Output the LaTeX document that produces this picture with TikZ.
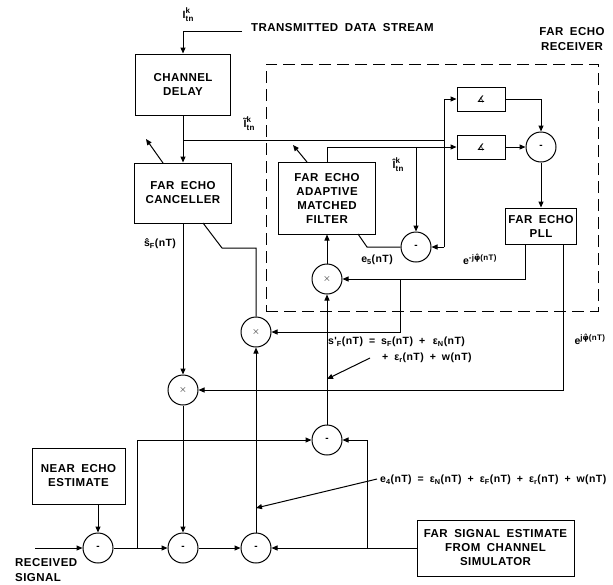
\documentclass[tikz,border=0pt]{standalone}
\usepackage{fontspec}
\setmainfont{Liberation Sans}
\newfontfamily\boxfont{Liberation Sans}[LetterSpace=4,WordSpace=1.8]
\newfontfamily\symfont{DejaVu Sans}
\usetikzlibrary{arrows.meta}
\newcommand\smallsc[1]{\mbox{\boxfont\bfseries\fontsize{8}{9}\selectfont #1}}
\newcommand\Ikt[1]{#1\rlap{\raisebox{5pt}{\smallsc{k}}}\raisebox{-3pt}{\smallsc{tn}}}
\newcommand\ephi[1]{e$^{\smallsc{#1j}\mbox{\symfont\bfseries\fontsize{8}{9}\selectfont φ̂}\smallsc{(nT)}}$}
\tikzset{
  wire/.style={line width=1pt},
  arr/.style={wire,-{Triangle[length=6pt,width=5pt]}},
  blk/.style={draw,line width=1pt,inner sep=0pt,align=center,
    font=\boxfont\bfseries\fontsize{11.5}{14}\selectfont},
  circ/.style={draw,circle,line width=1pt,minimum size=30pt,inner sep=0pt,font=\bfseries},
  lab/.style={inner sep=0pt,font=\boxfont\bfseries\fontsize{10.5}{12}\selectfont},
  big/.style={inner sep=0pt,align=left,font=\boxfont\bfseries\fontsize{11.5}{15}\selectfont},
  recvbox/.style={draw,line width=1pt,dash pattern=on 12pt off 6pt,inner sep=0pt}
}
\begin{document}
\begin{tikzpicture}[x=1pt,y=-1pt]
\useasboundingbox (0,0) rectangle (613,584);
% dashed receiver outline
\node[recvbox,minimum width=332pt,minimum height=247pt] (recv) at (432,187.5) {};
% blocks
\node[blk,minimum width=95pt,minimum height=61pt] (cd) at (183,84.5) {CHANNEL\\DELAY};
\node[blk,minimum width=97pt,minimum height=60pt] (fec) at (183,193) {FAR ECHO\\CANCELLER};
\node[blk,minimum width=97pt,minimum height=72pt] (amf) at (327,198) {FAR ECHO\\ADAPTIVE\\MATCHED\\FILTER};
\node[blk,minimum width=48pt,minimum height=24pt] (bu) at (481,99) {\symfont\fontsize{9}{9}\selectfont ∡};
\node[blk,minimum width=48pt,minimum height=24pt] (bl) at (481,147) {\symfont\fontsize{9}{9}\selectfont ∡};
\node[circ] (cs) at (541,147) {-};
\node[blk,minimum width=71pt,minimum height=36pt] (pll) at (541,226) {FAR ECHO\\PLL};
\node[circ] (ce) at (416,247) {-};
\node[circ] (mi) at (327,279) {$\times$};
\node[circ] (mm) at (256,332) {$\times$};
\node[circ] (mb) at (183,390) {$\times$};
\node[circ] (c1) at (98,548) {-};
\node[circ] (c2) at (183,548) {-};
\node[circ] (c3) at (256,548) {-};
\node[circ] (c4) at (327,440) {-};
\node[blk,minimum width=93pt,minimum height=56pt] (ne) at (78.5,476) {NEAR ECHO\\ESTIMATE};
\node[blk,minimum width=157pt,minimum height=56pt] (fse) at (495.5,548) {FAR SIGNAL ESTIMATE\\FROM CHANNEL\\SIMULATOR};
% coordinates
\coordinate (tin) at (242,31);
\coordinate (ti) at (183,140);
\coordinate (va) at (444,247);
\coordinate (pa) at (525,244);
\coordinate (pb) at (563,244);
\coordinate (pc) at (400,279);
\coordinate (e5a) at (358,234);
\coordinate (e5b) at (367,247);
\coordinate (fa) at (203,223);
\coordinate (fb) at (222,248);
\coordinate (rs) at (35,548);
\coordinate (ba) at (137,548);
\coordinate (bb) at (367,548);
\coordinate (fx1) at (163,163);
\coordinate (fx2) at (146,139);
\coordinate (ax1) at (307,162);
\coordinate (ax2) at (293,145);
\coordinate (sp1) at (370,358);
\coordinate (sp2) at (327,379);
\coordinate (ep1) at (377,479);
\coordinate (ep2) at (256,508);
% connectors
\draw[arr] (tin) -| (cd.north);
\draw[arr] (cd.south) -- (fec.north);
\draw[wire] (ti) -- (ti -| va);
\draw[arr] (va) |- (bu.west);
\draw[arr] (va) -- (ce.east);
\draw[arr] (amf.north) |- (bl.west);
\draw[arr] (bl.west -| ce.north) -- (ce.north);
\draw[arr] (bu.east) -| (cs.north);
\draw[arr] (bl.east) -- (cs.west);
\draw[arr] (cs.south) -- (pll.north);
\draw[arr] (pa) |- (mi.east);
\draw[arr] (pc) |- (mm.east);
\draw[arr] (pb) |- (mb.east);
\draw[arr] (mi.north) -- (amf.south);
\draw[wire] (e5a) -- (e5b) -- (ce.west);
\draw[wire] (fa) -- (fb) -- (fb -| mm.north) -- (mm.north);
\draw[arr] (fec.south) -- (mb.north);
\draw[arr] (mb.south) -- (c2.north);
\draw[arr] (ne.south -| c1.north) -- (c1.north);
\draw[arr] (rs) -- (c1.west);
\draw[arr] (c1.east) -- (c2.west);
\draw[arr] (ba) |- (c4.west);
\draw[arr] (c2.east) -- (c3.west);
\draw[arr] (c3.north) -- (mm.south);
\draw[arr] (fse.west) -- (c3.east);
\draw[arr] (bb) |- (c4.east);
\draw[arr] (c4.north) -- (mi.south);
\draw[arr] (fx1) -- (fx2);
\draw[arr] (ax1) -- (ax2);
\draw[arr] (sp1) -- (sp2);
\draw[arr] (ep1) -- (ep2);
% labels
\node[lab] (lI) at (188,15) {\Ikt{I}};
\node[big,anchor=west] (tds) at (251,28) {TRANSMITTED DATA STREAM};
\node[big,align=center] (fer) at (572,39) {FAR ECHO\\RECEIVER};
\node[lab] (lIt) at (249,124) {\Ikt{Ĩ}};
\node[lab] (lIh) at (398,165) {\Ikt{Î}};
\node[lab] (lsf) at (160,244) {ŝ\textsubscript{F}(nT)};
\node[lab] (le5) at (377,260) {e\textsubscript{5}(nT)};
\node[lab] (lem) at (480,259) {\ephi{-}};
\node[lab] (lep) at (590,339) {\ephi{}};
\node[lab,anchor=west] (ls1) at (328,342) {s'\textsubscript{F}(nT) = s\textsubscript{F}(nT) + \,ε\textsubscript{N}(nT)};
\node[lab,anchor=west] (ls2) at (382,358) {+ ε\textsubscript{r}(nT) + w(nT)};
\node[lab,anchor=west] (le4) at (380,480) {e\textsubscript{4}(nT) = ε\textsubscript{N}(nT) + ε\textsubscript{F}(nT) + ε\textsubscript{r}(nT) + w(nT)};
\node[big,anchor=west] (lrs) at (15,570) {RECEIVED\\SIGNAL};
\end{tikzpicture}
\end{document}
